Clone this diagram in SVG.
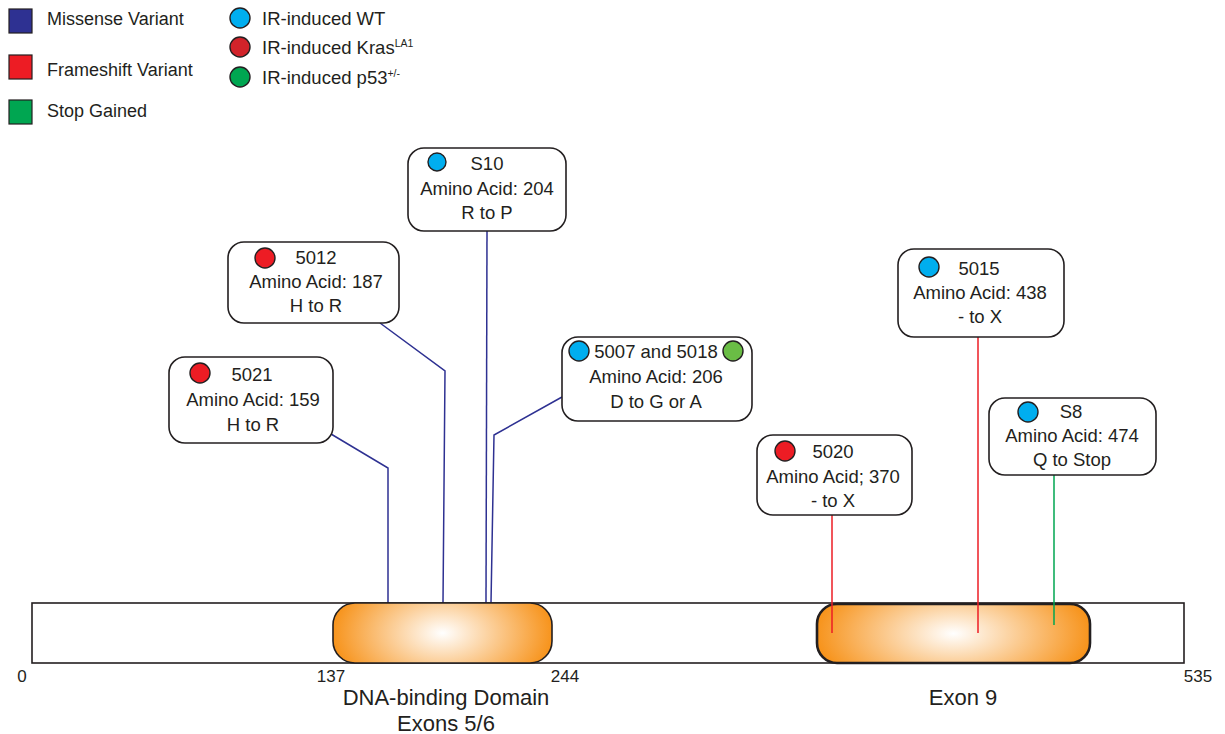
<svg xmlns="http://www.w3.org/2000/svg" width="1225" height="734" viewBox="0 0 1225 734">
<defs>
<radialGradient id="dom" cx="0.5" cy="0.5" r="0.5" gradientTransform="translate(0.5 0.5) scale(1 2.2) translate(-0.5 -0.5)">
<stop offset="0" stop-color="#ffffff"/>
<stop offset="1" stop-color="#f7941d"/>
</radialGradient>
<style>
text{font-family:"Liberation Sans",Arial,sans-serif;font-size:18.5px;fill:#231f20}
.c{text-anchor:middle}
.lgt{font-size:18px}
.num{font-size:17px}
.dom{font-size:22px}
.box{fill:#fff;stroke:#231f20;stroke-width:1.6}
.dot{stroke:#231f20;stroke-width:1.4}
.bl{fill:#00aeef}.rd{fill:#ed1c24}.gr{fill:#00a651}.lg{fill:#6abd45}
.mis{stroke:#2e3192;stroke-width:1.5;fill:none}
.fs{stroke:#ed1c24;stroke-width:1.5;fill:none}
.sg{stroke:#00a651;stroke-width:1.5;fill:none}
</style>
</defs>
<rect width="1225" height="734" fill="#fff"/>
<g id="legend">
<rect x="9" y="9" width="23" height="24" fill="#2e3192" stroke="#231f20" stroke-width="1.2"/>
<text x="47" y="25" class="lgt">Missense Variant</text>
<rect x="9" y="55" width="23" height="24" fill="#ed1c24" stroke="#231f20" stroke-width="1.2"/>
<text x="47" y="76" class="lgt">Frameshift Variant</text>
<rect x="9" y="100" width="23" height="24" fill="#00a651" stroke="#231f20" stroke-width="1.2"/>
<text x="47" y="117" class="lgt">Stop Gained</text>
<circle cx="240" cy="18" r="10" class="dot bl"/>
<text x="262" y="25">IR-induced WT</text>
<circle cx="240" cy="47" r="10" class="dot" fill="#d2232a"/>
<text x="262" y="54">IR-induced Kras<tspan dy="-7" style="font-size:10.5px">LA1</tspan></text>
<circle cx="240" cy="77" r="10" class="dot gr"/>
<text x="262" y="84">IR-induced p53<tspan dy="-7" style="font-size:10.5px">+/-</tspan></text>
</g>
<g id="connectors">
<polyline class="mis" points="331,434 388,468 388,603"/>
<polyline class="mis" points="380,323 445,371 443,603"/>
<polyline class="mis" points="487,231 486,603"/>
<polyline class="mis" points="562,397 494,435 491,603"/>
</g>
<g id="protein">
<rect x="32" y="603" width="1152" height="60" fill="#fff" stroke="#231f20" stroke-width="1.6"/>
<rect x="333" y="603" width="219" height="60" rx="22" fill="url(#dom)" stroke="#231f20" stroke-width="1.6"/>
<rect x="817" y="604" width="273" height="59" rx="20" fill="url(#dom)" stroke="#231f20" stroke-width="2.6"/>
<text x="22" y="682" class="c num">0</text>
<text x="331" y="682" class="c num">137</text>
<text x="565" y="682" class="c num">244</text>
<text x="1198" y="682" class="c num">535</text>
<text x="446" y="705" class="c dom">DNA-binding Domain</text>
<text x="446" y="731" class="c dom">Exons 5/6</text>
<text x="963" y="705" class="c dom">Exon 9</text>
</g>
<g id="connectors-exon9">
<line class="fs" x1="832" y1="515" x2="832" y2="633"/>
<line class="fs" x1="978" y1="337" x2="978" y2="633"/>
<line class="sg" x1="1054" y1="475" x2="1054" y2="625"/>
</g>
<g id="n-S10">
<rect x="408" y="148" width="158" height="83" rx="16" class="box"/>
<circle cx="437" cy="162" r="9" class="dot bl"/>
<text x="487" y="170" class="c">S10</text>
<text x="487" y="195" class="c">Amino Acid: 204</text>
<text x="487" y="219" class="c">R to P</text>
</g>
<g id="n-5012">
<rect x="228" y="242" width="171" height="81" rx="16" class="box"/>
<circle cx="265" cy="258" r="10" class="dot rd"/>
<text x="316" y="264" class="c">5012</text>
<text x="316" y="288" class="c">Amino Acid: 187</text>
<text x="316" y="312" class="c">H to R</text>
</g>
<g id="n-5021">
<rect x="169" y="357" width="164" height="86" rx="16" class="box"/>
<circle cx="200" cy="373" r="10" class="dot rd"/>
<text x="252" y="381" class="c">5021</text>
<text x="253" y="406" class="c">Amino Acid: 159</text>
<text x="253" y="431" class="c">H to R</text>
</g>
<g id="n-5007">
<rect x="562" y="337" width="190" height="84" rx="16" class="box"/>
<circle cx="579" cy="351" r="10" class="dot bl"/>
<circle cx="733" cy="351" r="10" class="dot lg"/>
<text x="656" y="358" class="c">5007 and 5018</text>
<text x="656" y="383" class="c">Amino Acid: 206</text>
<text x="656" y="408" class="c">D to G or A</text>
</g>
<g id="n-5015">
<rect x="898" y="249" width="166" height="88" rx="16" class="box"/>
<circle cx="929" cy="267" r="10" class="dot bl"/>
<text x="979" y="275" class="c">5015</text>
<text x="980" y="299" class="c">Amino Acid: 438</text>
<text x="980" y="323" class="c">- to X</text>
</g>
<g id="n-S8">
<rect x="989" y="398" width="167" height="77" rx="16" class="box"/>
<circle cx="1028" cy="412" r="10" class="dot bl"/>
<text x="1071" y="418" class="c">S8</text>
<text x="1072" y="442" class="c">Amino Acid: 474</text>
<text x="1072" y="466" class="c">Q to Stop</text>
</g>
<g id="n-5020">
<rect x="757" y="435" width="155" height="80" rx="16" class="box"/>
<circle cx="785" cy="451" r="10" class="dot rd"/>
<text x="833" y="458" class="c">5020</text>
<text x="833" y="483" class="c">Amino Acid; 370</text>
<text x="833" y="507" class="c">- to X</text>
</g>
</svg>
